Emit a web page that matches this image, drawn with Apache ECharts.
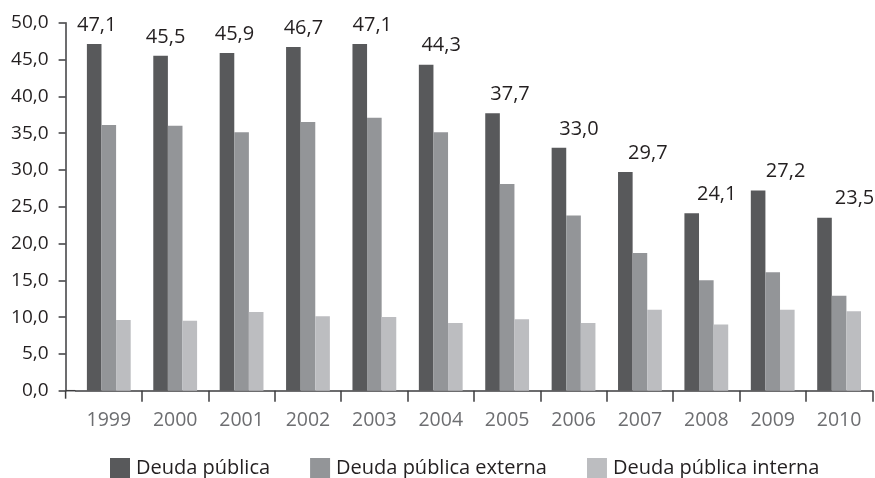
<!DOCTYPE html>
<html>
<head>
<meta charset="utf-8">
<script src="https://cdn.jsdelivr.net/npm/echarts@6/dist/echarts.min.js"></script>
<style>html,body{margin:0;padding:0;background:#fff;}#c{width:875px;height:478px;}</style>
</head>
<body>
<div id="c"></div>
<script>
const years = ['1999','2000','2001','2002','2003','2004','2005','2006','2007','2008','2009','2010'];
const deudaPublica = [47.1, 45.5, 45.9, 46.7, 47.1, 44.3, 37.7, 33.0, 29.7, 24.1, 27.2, 23.5];
const deudaExterna = [36.1, 36.0, 35.1, 36.5, 37.1, 35.1, 28.1, 23.8, 18.7, 15.0, 16.1, 12.9];
const deudaInterna = [9.6, 9.5, 10.7, 10.1, 10.0, 9.2, 9.7, 9.2, 11.0, 9.0, 11.0, 10.8];
const seriesNames = ['Deuda pública', 'Deuda pública externa', 'Deuda pública interna'];
const yTicks = { min: 0, max: 50, interval: 5 };

const FONT = 'Open Sans';
const gridLeft = 75.6, yOffset = 10;
const fmt = v => Number(v).toFixed(1).replace('.', ',');

const chart = echarts.init(document.getElementById('c'), null, { renderer: 'canvas' });
const barStyle = (color) => ({ color: color });
const option = {
  animation: false,
  textStyle: { fontFamily: FONT },
  grid: { left: gridLeft, right: 2.7, top: 22.7, bottom: 87.3, containLabel: false },
  legend: {
    left: 110, top: 458,
    padding: 0,
    itemWidth: 20, itemHeight: 20, itemGap: 40,
    icon: 'rect',
    textStyle: { fontFamily: FONT, fontSize: 20, lineHeight: 20, color: '#231f20', padding: [0, 0, 0, 1] },
    data: seriesNames
  },
  xAxis: {
    type: 'category',
    data: years,
    boundaryGap: true,
    axisLine: { lineStyle: { color: '#3d3d3f', width: 1.5 } },
    axisTick: { show: true, length: 11, lineStyle: { color: '#3d3d3f', width: 1.5 }, interval: (i) => i !== 0 },
    axisLabel: { color: '#6d6e71', fontSize: 19.5, fontFamily: FONT, margin: 20, interval: 0 }
  },
  yAxis: {
    type: 'value',
    min: yTicks.min, max: yTicks.max, interval: yTicks.interval,
    offset: yOffset,
    splitLine: { show: false },
    axisLine: { show: true, lineStyle: { color: '#3d3d3f', width: 1.5 } },
    axisTick: { show: true, length: 7, lineStyle: { color: '#3d3d3f', width: 1.5 } },
    axisLabel: { color: '#231f20', fontSize: 19, fontFamily: FONT, margin: 17, formatter: fmt }
  },
  series: [
    {
      name: seriesNames[0], type: 'bar', barWidth: 14.6, barGap: '0%',
      itemStyle: barStyle('#58595b'),
      label: { show: true, position: 'top', distance: 9, color: '#231f20', fontSize: 20, fontFamily: FONT, formatter: p => fmt(p.value) },
      data: deudaPublica.map((v, i) => ({ value: v, label: { offset: [2.5 + 2.5 * i, 0] } }))
    },
    { name: seriesNames[1], type: 'bar', barWidth: 14.6, barGap: '0%', itemStyle: barStyle('#939598'), data: deudaExterna },
    { name: seriesNames[2], type: 'bar', barWidth: 14.6, barGap: '0%', itemStyle: barStyle('#bcbdc0'), data: deudaInterna }
  ]
};
chart.setOption(option);

// extend the axis frame: connect offset y axis to x axis, and extend y axis below baseline
const y0 = chart.convertToPixel({ yAxisIndex: 0 }, 0);
const axX = gridLeft - yOffset;
chart.setOption({
  graphic: [
    { type: 'line', shape: { x1: axX, y1: y0, x2: gridLeft, y2: y0 }, style: { stroke: '#3d3d3f', lineWidth: 1.5 } },
    { type: 'line', shape: { x1: axX, y1: y0, x2: axX, y2: y0 + 8 }, style: { stroke: '#3d3d3f', lineWidth: 1.5 } }
  ]
});
</script>
</body>
</html>
